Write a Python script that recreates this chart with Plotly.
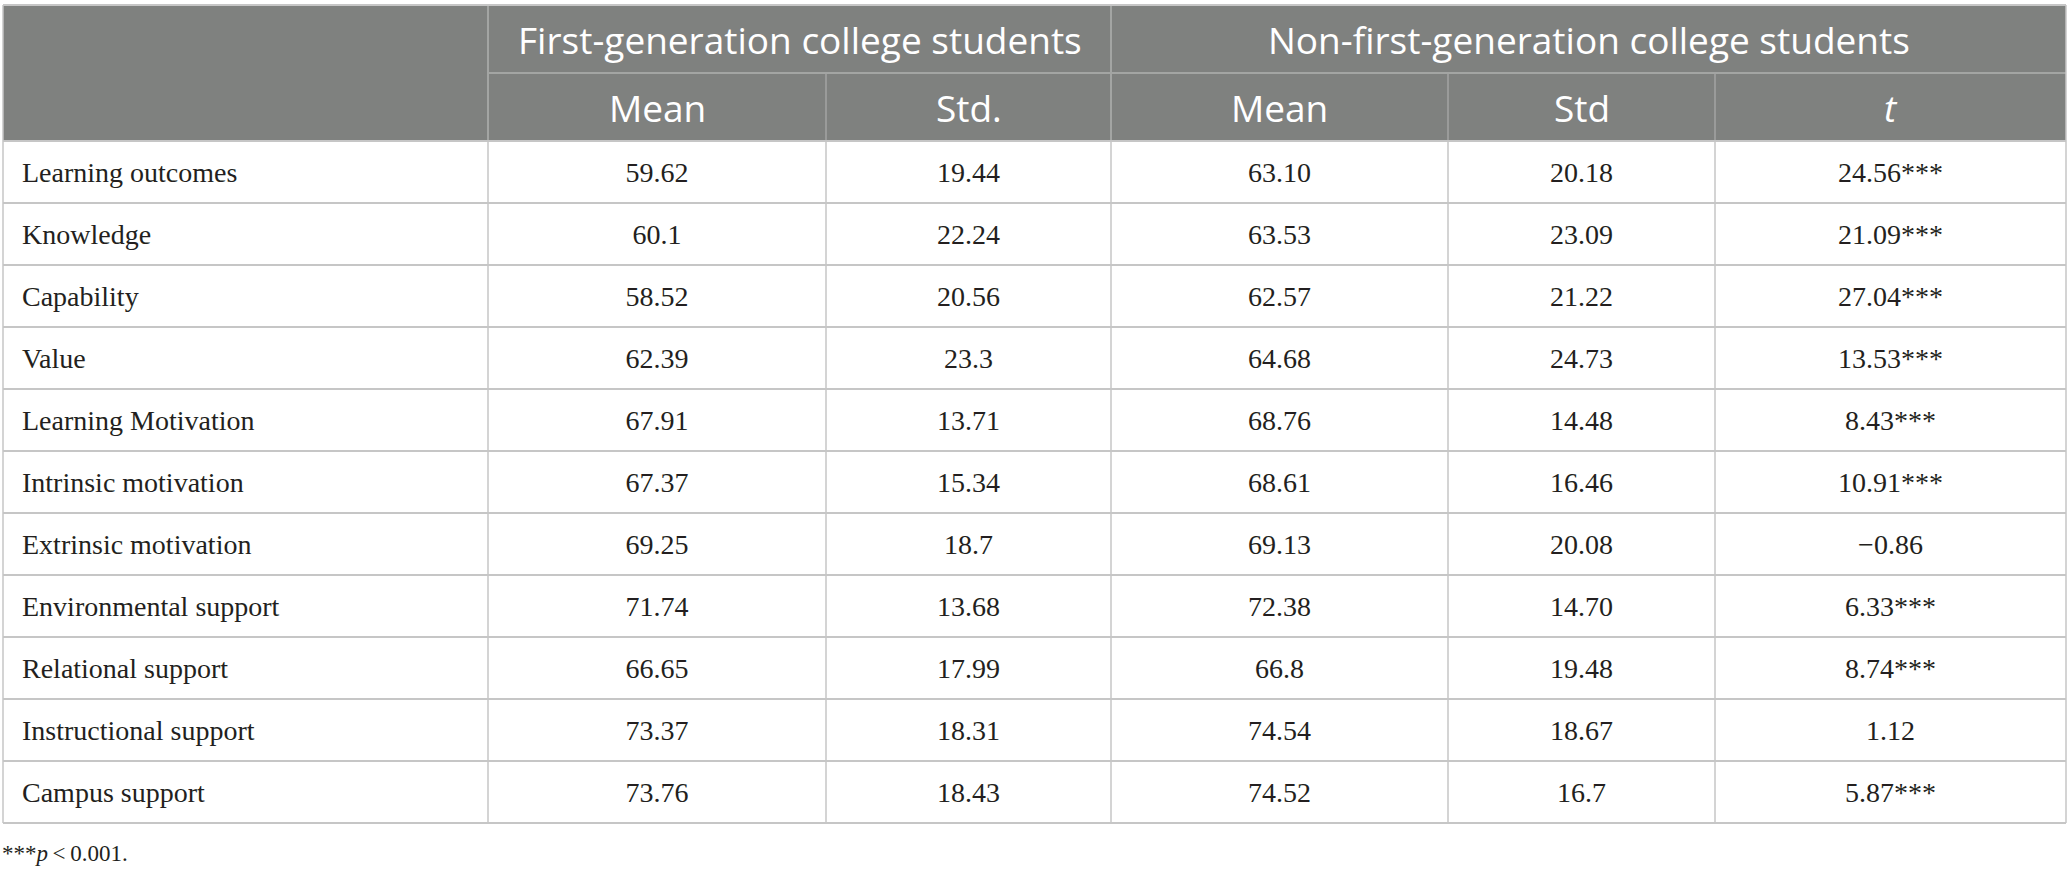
import plotly.graph_objects as go

# table content
variables = [
    "Learning outcomes", "Knowledge", "Capability", "Value",
    "Learning Motivation", "Intrinsic motivation", "Extrinsic motivation",
    "Environmental support", "Relational support", "Instructional support",
    "Campus support",
]
first_mean = ["59.62", "60.1", "58.52", "62.39", "67.91", "67.37", "69.25",
              "71.74", "66.65", "73.37", "73.76"]
first_std = ["19.44", "22.24", "20.56", "23.3", "13.71", "15.34", "18.7",
             "13.68", "17.99", "18.31", "18.43"]
non_mean = ["63.10", "63.53", "62.57", "64.68", "68.76", "68.61", "69.13",
            "72.38", "66.8", "74.54", "74.52"]
non_std = ["20.18", "23.09", "21.22", "24.73", "14.48", "16.46", "20.08",
           "14.70", "19.48", "18.67", "16.7"]
t_values = ["24.56***", "21.09***", "27.04***", "13.53***", "8.43***",
            "10.91***", "\u22120.86", "6.33***", "8.74***", "1.12", "5.87***"]

group_labels = ["First-generation college students",
                "Non-first-generation college students"]
sub_labels = ["Mean", "Std.", "Mean", "Std", "<i>t</i>"]
footnote = "***<i>p</i>\u2009<\u20090.001."

# geometry (pixels)
W, H = 2068, 877
col_edges = [3, 488, 826, 1111, 1448, 1715, 2066]
top, mid, head_bottom, row_h = 5, 73, 141, 62

HEAD_BG = "#7f817f"
HEAD_LINE = "#a3a5a3"
GRID = "#c6c6c6"
TEXT = "#231f20"
SERIF = "Liberation Serif"
SANS = "Open Sans"

n_rows = len(variables)
bottom = head_bottom + n_rows * row_h
row_y = [head_bottom + row_h * (i + 0.5) + 2.5 for i in range(n_rows)]
col_x = [(col_edges[i] + col_edges[i + 1]) / 2 for i in range(len(col_edges) - 1)]

fig = go.Figure()

# first column, left aligned
fig.add_trace(go.Scatter(
    x=[col_edges[0] + 19] * n_rows, y=row_y, text=variables,
    mode="text", textposition="middle right",
    textfont=dict(family=SERIF, size=28, color=TEXT),
    hoverinfo="skip", showlegend=False,
))

for j, col in enumerate([first_mean, first_std, non_mean, non_std, t_values]):
    fig.add_trace(go.Scatter(
        x=[col_x[j + 1]] * n_rows, y=row_y, text=col,
        mode="text", textposition="middle center",
        textfont=dict(family=SERIF, size=28, color=TEXT),
        hoverinfo="skip", showlegend=False,
    ))

shapes = []
# header background
shapes.append(dict(type="rect", x0=col_edges[0], x1=col_edges[-1], y0=top, y1=head_bottom,
                   fillcolor=HEAD_BG, line=dict(width=0), layer="below"))
# header inner lines
shapes.append(dict(type="line", x0=col_edges[1], x1=col_edges[-1], y0=mid, y1=mid,
                   line=dict(color=HEAD_LINE, width=2), layer="below"))
for k in [1, 3]:
    shapes.append(dict(type="line", x0=col_edges[k], x1=col_edges[k], y0=top, y1=head_bottom,
                       line=dict(color=HEAD_LINE, width=2), layer="below"))
for k in [2, 4, 5]:
    shapes.append(dict(type="line", x0=col_edges[k], x1=col_edges[k], y0=mid, y1=head_bottom,
                       line=dict(color=HEAD_LINE, width=1.5), layer="below"))
# outer border of header
shapes.append(dict(type="line", x0=col_edges[0], x1=col_edges[-1], y0=top, y1=top,
                   line=dict(color=GRID, width=2), layer="below"))
# body horizontal lines
for i in range(n_rows + 1):
    y = head_bottom + i * row_h
    shapes.append(dict(type="line", x0=col_edges[0], x1=col_edges[-1], y0=y, y1=y,
                       line=dict(color=GRID, width=2), layer="below"))
# body vertical lines
for xe in col_edges:
    shapes.append(dict(type="line", x0=xe, x1=xe, y0=head_bottom, y1=bottom,
                       line=dict(color=GRID, width=1.5), layer="below"))
for xe in [col_edges[0], col_edges[-1]]:
    shapes.append(dict(type="line", x0=xe, x1=xe, y0=top, y1=head_bottom,
                       line=dict(color=GRID, width=1.5), layer="below"))

annotations = []
annotations.append(dict(x=(col_edges[1] + col_edges[3]) / 2, y=(top + mid) / 2,
                        text=group_labels[0], showarrow=False, xanchor="center", yanchor="middle",
                        font=dict(family=SANS, size=37, color="white")))
annotations.append(dict(x=(col_edges[3] + col_edges[6]) / 2, y=(top + mid) / 2,
                        text=group_labels[1], showarrow=False, xanchor="center", yanchor="middle",
                        font=dict(family=SANS, size=37, color="white")))
for j, lab in enumerate(sub_labels):
    annotations.append(dict(x=col_x[j + 1], y=(mid + head_bottom) / 2, text=lab,
                            showarrow=False, xanchor="center", yanchor="middle",
                            font=dict(family=SANS, size=37, color="white")))
annotations.append(dict(x=0, y=bottom + 30, text=footnote, showarrow=False,
                        xanchor="left", yanchor="middle",
                        font=dict(family=SERIF, size=23, color=TEXT)))

fig.update_layout(
    width=W, height=H,
    margin=dict(l=0, r=0, t=0, b=0),
    paper_bgcolor="white", plot_bgcolor="white",
    xaxis=dict(range=[0, W], visible=False, fixedrange=True),
    yaxis=dict(range=[H, 0], visible=False, fixedrange=True),
    shapes=shapes, annotations=annotations,
)

fig.write_html("out.html", config={"displayModeBar": False},
               post_script="document.body.style.margin='0';")
